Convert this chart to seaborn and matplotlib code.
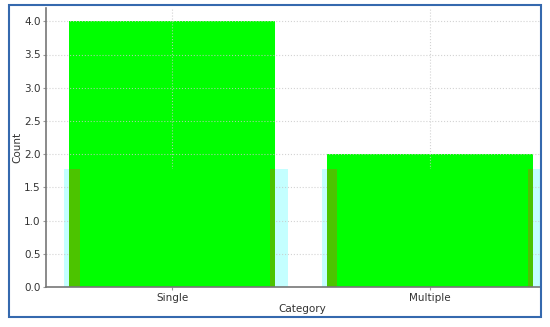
import numpy as np
import pandas as pd
import matplotlib
matplotlib.use('Agg')
import matplotlib.pyplot as plt
import seaborn as sns
from matplotlib.patches import Rectangle

sns.set_style('white')
plt.rcParams['font.family'] = ['DejaVu Sans']

# data
categories = ['Single', 'Multiple']
counts = [4, 2]
shadow = [1.78, 1.78]

df = pd.DataFrame({'Category': categories, 'Count': counts})

fig = plt.figure(figsize=(5.5, 3.27), dpi=100)
ax = fig.add_axes([46 / 550, 40 / 327, 513 / 550, 279 / 327])

pos = np.arange(len(categories))

# light cyan shadow bars behind
ax.bar(pos + 0.015, shadow, width=0.87, color='#c4ffff', linewidth=0, zorder=1)

# main green bars
sns.barplot(data=df, x='Category', y='Count', color='#00ff00', saturation=1,
            width=0.8, linewidth=0, ax=ax, zorder=2)

# darker strips at the bar edges
ax.bar(pos, shadow, width=0.8, color='#4cc400', linewidth=0, zorder=3)
ax.bar(pos + 0.01, shadow, width=0.74, color='#00ff00', linewidth=0, zorder=4)

ax.set_xlim(-0.49, 1.5)
ax.set_ylim(0, 4.2)
ax.set_yticks(np.arange(0, 4.01, 0.5))
ax.grid(True, color='#c8c8c8', linestyle=':', linewidth=0.8, alpha=0.8, zorder=5)
ax.set_axisbelow(False)

sns.despine(ax=ax)
for s in ['left', 'bottom']:
    ax.spines[s].set_color('#777777')
    ax.spines[s].set_linewidth(1.2)
    ax.spines[s].set_zorder(6)

ax.tick_params(axis='both', labelsize=7.5, colors='#333333', length=2, pad=2,
               color='#999999', direction='out')
ax.tick_params(axis='both', left=True, bottom=True)
ax.set_xlabel('Category', fontsize=7.5, color='#333333', labelpad=1)
ax.set_ylabel('Count', fontsize=7.5, color='#333333', labelpad=1)

# white margin right of the frame, then the blue frame itself
fig.patches.append(Rectangle((542 / 550, 0), 8 / 550, 1, transform=fig.transFigure,
                             facecolor='white', edgecolor='none', zorder=9))
fig.patches.append(Rectangle((9 / 550, 10 / 327), 532 / 550, 312 / 327,
                             transform=fig.transFigure, fill=False,
                             edgecolor='#3569ae', linewidth=1.5, zorder=10))

fig.savefig('out.png', dpi=100)
